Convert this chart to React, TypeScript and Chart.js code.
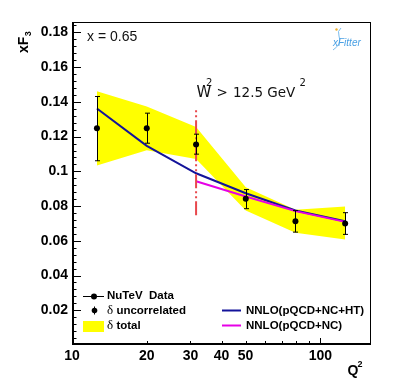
import React, { useEffect, useRef } from 'react';
import { Chart, registerables } from 'chart.js';

Chart.register(...registerables);

// ---- data ----
const q2 = [12.6, 20.0, 31.6, 50.1, 79.4, 125.9];
const xf3 = [0.1248, 0.1248, 0.1154, 0.0842, 0.0713, 0.07];
const uncorrHigh = [0.1431, 0.1335, 0.1214, 0.0895, 0.0774, 0.0762];
const uncorrLow = [0.1061, 0.1162, 0.1099, 0.0785, 0.065, 0.0637];
const totalHigh = [0.1461, 0.1374, 0.1255, 0.0909, 0.0779, 0.0798];
const totalLow = [0.1033, 0.1122, 0.1071, 0.0775, 0.0647, 0.0607];
const nnloHT = [0.1362, 0.1147, 0.0989, 0.0874, 0.0775, 0.0713];
const nnloNC = [null, null, 0.0943, 0.0855, 0.0771, 0.0709];
const cutQ2 = 31.6;
const cutRange = [0.0747, 0.1357];
const xTicks = [10, 20, 30, 40, 50, 60, 70, 80, 90, 100];
const xLabelled = [10, 20, 30, 40, 50, 100];
const xRange = [10, 160];
const yRange = [0, 0.186];

const YELLOW = '#ffff00';
const BLUE = '#13139a';
const MAGENTA = '#e600e6';
const RED = 'rgb(232,72,76)';

const pts = (ys: (number | null)[]) =>
  q2.map((x, i) => (ys[i] == null ? null : { x, y: ys[i] as number })).filter(Boolean) as { x: number; y: number }[];

const rootPlugin = {
  id: 'rootStyle',
  beforeDatasetDraw(chart: any, args: any) {
    if (args.index !== 5) return;
    const ctx = chart.ctx;
    const xs = chart.scales.x;
    const ys = chart.scales.y;
    ctx.save();
    ctx.strokeStyle = '#000';
    ctx.lineWidth = 1;
    q2.forEach((q, i) => {
      const px = Math.round(xs.getPixelForValue(q)) + 0.5;
      const y1 = ys.getPixelForValue(uncorrHigh[i]);
      const y2 = ys.getPixelForValue(uncorrLow[i]);
      ctx.beginPath();
      ctx.moveTo(px, y1);
      ctx.lineTo(px, y2);
      ctx.moveTo(px - 2.5, y1);
      ctx.lineTo(px + 2.5, y1);
      ctx.moveTo(px - 2.5, y2);
      ctx.lineTo(px + 2.5, y2);
      ctx.stroke();
    });
    ctx.restore();
  },
  afterDraw(chart: any) {
    const ctx = chart.ctx;
    const { left, right, top, bottom } = chart.chartArea;
    const xs = chart.scales.x;
    const ys = chart.scales.y;
    ctx.save();
    // frame
    ctx.strokeStyle = '#000';
    ctx.lineWidth = 1;
    ctx.strokeRect(left + 0.5, top + 0.5, right - left - 1, bottom - top - 1);
    ctx.lineWidth = 2;
    ctx.beginPath();
    ctx.moveTo(left + 1, top);
    ctx.lineTo(left + 1, bottom - 1);
    ctx.lineTo(right, bottom - 1);
    ctx.stroke();
    // inside ticks y
    ctx.lineWidth = 1;
    ctx.beginPath();
    for (let k = 1; k * 0.004 <= yRange[1] + 1e-9; k++) {
      const py = Math.round(ys.getPixelForValue(k * 0.004)) + 0.5;
      const len = k % 5 === 0 ? 9 : 4.5;
      ctx.moveTo(left, py);
      ctx.lineTo(left + len, py);
    }
    // inside ticks x
    xTicks.forEach((v) => {
      const px = Math.round(xs.getPixelForValue(v)) + 0.5;
      const len = v === 10 || v === 100 ? 7 : 4;
      ctx.moveTo(px, bottom);
      ctx.lineTo(px, bottom - len);
    });
    ctx.stroke();

    ctx.textBaseline = 'alphabetic';
    ctx.textAlign = 'left';
    // x = 0.65
    ctx.font = '14px "Liberation Sans"';
    ctx.fillStyle = '#111';
    ctx.fillText('x = 0.65', 87, 41);
    // W^2 > 12.5 GeV^2
    ctx.font = '15px "DejaVu Sans"';
    ctx.fillText('W', 196.5, 97);
    ctx.font = '13.5px "DejaVu Sans"';
    ctx.fillText('>', 216.5, 97);
    ctx.fillText('12.5 GeV', 233, 97);
    ctx.font = '10px "DejaVu Sans"';
    ctx.fillText('2', 206, 86);
    ctx.fillText('2', 299.5, 86);
    ctx.fillStyle = '#000';

    // y title
    ctx.save();
    ctx.translate(27.5, 53);
    ctx.rotate(-Math.PI / 2);
    ctx.font = 'bold 14px "Liberation Sans"';
    ctx.fillText('xF', 0, 0);
    const w = ctx.measureText('xF').width;
    ctx.font = 'bold 9px "Liberation Sans"';
    ctx.fillText('3', w + 0.5, 3.5);
    ctx.restore();

    // x title
    ctx.font = 'bold 14px "Liberation Sans"';
    ctx.fillText('Q', 347.5, 375);
    ctx.font = 'bold 9px "Liberation Sans"';
    ctx.fillText('2', 357.5, 367);

    // legend
    const bold = 'bold 11.5px "Liberation Sans"';
    const greek = '13px "Liberation Serif"';
    ctx.textBaseline = 'middle';
    // row 1
    let ry = 296;
    ctx.lineWidth = 1;
    ctx.beginPath();
    ctx.moveTo(83, ry + 0.5);
    ctx.lineTo(104, ry + 0.5);
    ctx.stroke();
    ctx.beginPath();
    ctx.arc(94, ry + 0.5, 3, 0, Math.PI * 2);
    ctx.fill();
    ctx.font = bold;
    ctx.fillText('NuTeV  Data', 107, ry);
    // row 2
    ry = 310.5;
    ctx.beginPath();
    ctx.moveTo(94.5, ry - 4);
    ctx.lineTo(94.5, ry + 4);
    ctx.stroke();
    ctx.beginPath();
    ctx.arc(94.5, ry, 2.8, 0, Math.PI * 2);
    ctx.fill();
    ctx.font = greek;
    ctx.fillText('δ', 107, ry);
    let gw = ctx.measureText('δ ').width;
    ctx.font = bold;
    ctx.fillText('uncorrelated', 107 + gw, ry);
    // row 3
    ry = 326;
    ctx.fillStyle = YELLOW;
    ctx.fillRect(83, 321, 21, 11);
    ctx.fillStyle = '#000';
    ctx.font = greek;
    ctx.fillText('δ', 107, ry);
    gw = ctx.measureText('δ ').width;
    ctx.font = bold;
    ctx.fillText('total', 107 + gw, ry);
    // right column
    ctx.lineWidth = 2;
    ctx.strokeStyle = BLUE;
    ctx.beginPath();
    ctx.moveTo(222, 310.5);
    ctx.lineTo(241, 310.5);
    ctx.stroke();
    ctx.strokeStyle = MAGENTA;
    ctx.beginPath();
    ctx.moveTo(222, 325.5);
    ctx.lineTo(241, 325.5);
    ctx.stroke();
    ctx.fillStyle = '#000';
    ctx.fillText('NNLO(pQCD+NC+HT)', 246, 310.5);
    ctx.fillText('NNLO(pQCD+NC)', 246, 325.5);

    // xFitter logo
    ctx.textBaseline = 'alphabetic';
    ctx.strokeStyle = '#7bbcec';
    ctx.lineWidth = 1;
    ctx.beginPath();
    ctx.moveTo(333, 50);
    ctx.quadraticCurveTo(342, 44, 339, 36);
    ctx.quadraticCurveTo(337, 31, 341, 28);
    ctx.stroke();
    ctx.fillStyle = '#f0b030';
    ctx.beginPath();
    ctx.arc(336.5, 29.5, 1.2, 0, Math.PI * 2);
    ctx.fill();
    ctx.fillStyle = '#4aa0e4';
    ctx.font = 'italic 10px "Liberation Sans"';
    ctx.fillText('xFitter', 333, 45.5);
    ctx.restore();
  },
};

export default function App() {
  const ref = useRef<HTMLCanvasElement | null>(null);
  useEffect(() => {
    document.body.style.margin = '0';
    const canvas = ref.current;
    if (!canvas) return;
    const tickFont = { family: '"Liberation Sans"', size: 14, weight: 'bold' as const };
    const chart = new Chart(canvas, {
      type: 'scatter',
      data: {
        datasets: [
          {
            data: pts(totalHigh),
            showLine: true,
            borderWidth: 0,
            borderColor: 'rgba(0,0,0,0)',
            backgroundColor: YELLOW,
            pointRadius: 0,
            fill: '+1',
            order: 10,
          },
          {
            data: pts(totalLow),
            showLine: true,
            borderWidth: 0,
            borderColor: 'rgba(0,0,0,0)',
            pointRadius: 0,
            fill: false,
            order: 9,
          },
          {
            data: pts(nnloHT),
            showLine: true,
            borderColor: BLUE,
            borderWidth: 2,
            pointRadius: 0,
            fill: false,
            order: 5,
          },
          {
            data: pts(nnloNC),
            showLine: true,
            borderColor: MAGENTA,
            borderWidth: 2,
            pointRadius: 0,
            fill: false,
            order: 4,
          },
          {
            data: cutRange.map((y) => ({ x: cutQ2, y })),
            showLine: true,
            borderColor: RED,
            borderWidth: 2,
            borderDash: [14, 3, 2, 3, 2, 3],
            pointRadius: 0,
            fill: false,
            order: 3,
          },
          {
            data: pts(xf3),
            showLine: false,
            pointRadius: 3,
            pointBackgroundColor: '#000',
            pointBorderWidth: 0,
            order: 1,
          },
        ],
      },
      options: {
        responsive: false,
        animation: false,
        devicePixelRatio: 1,
        layout: { padding: { left: 0, top: 22, right: 36, bottom: 0 } },
        plugins: {
          legend: { display: false },
          tooltip: { enabled: false },
        },
        scales: {
          x: {
            type: 'logarithmic',
            min: xRange[0],
            max: xRange[1],
            afterFit: (s: any) => {
              s.height = 42;
            },
            afterBuildTicks: (s: any) => {
              s.ticks = xTicks.map((v) => ({ value: v }));
            },
            grid: { display: false, drawTicks: false, tickLength: 0 },
            border: { display: false },
            ticks: {
              autoSkip: false,
              maxRotation: 0,
              minRotation: 0,
              padding: 3,
              color: '#000',
              font: tickFont,
              callback: (v: any) => (xLabelled.includes(Number(v)) ? String(v) : ''),
            },
          },
          y: {
            type: 'linear',
            min: yRange[0],
            max: yRange[1],
            afterFit: (s: any) => {
              s.width = 72;
            },
            grid: { display: false, drawTicks: false, tickLength: 0 },
            border: { display: false },
            ticks: {
              stepSize: 0.02,
              includeBounds: false,
              padding: 4,
              color: '#000',
              font: tickFont,
              callback: (v: any) => (Math.abs(Number(v)) < 1e-9 ? '' : String(+Number(v).toFixed(2))),
            },
          },
        },
      } as any,
      plugins: [rootPlugin],
    });
    return () => chart.destroy();
  }, []);
  return (
    <div style={{ width: 407, height: 387, background: '#fff' }}>
      <canvas ref={ref} width={407} height={387} style={{ display: 'block' }} />
    </div>
  );
}
